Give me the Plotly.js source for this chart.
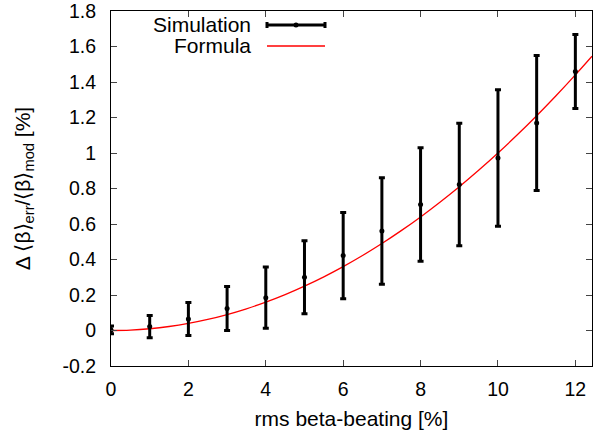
<!DOCTYPE html>
<html>
<head>
<meta charset="utf-8">
<script src="https://cdn.plot.ly/plotly-3.0.1.min.js"></script>
<style>html,body{margin:0;padding:0;background:#fff;}#chart{width:593px;height:438px;}</style>
</head>
<body>
<div id="chart"></div>
<script>
// Simulation points
var simX = [0, 1, 2, 3, 4, 5, 6, 7, 8, 9, 10, 11, 12];
var simY = [0.003, 0.022, 0.065, 0.124, 0.185, 0.300, 0.422, 0.561, 0.710, 0.823, 0.972, 1.169, 1.459];
var simErr = [0.022, 0.063, 0.093, 0.124, 0.173, 0.206, 0.243, 0.300, 0.320, 0.345, 0.385, 0.380, 0.208];

// Formula curve
var formulaX = [0, 0.5, 1, 1.5, 2, 2.5, 3, 3.5, 4, 4.5, 5, 5.5, 6, 6.5, 7, 7.5, 8, 8.5, 9, 9.5, 10, 10.5, 11, 11.5, 12, 12.43];
var formulaY = [0, 0.0025, 0.01, 0.0225, 0.04, 0.0625, 0.09, 0.1225, 0.16, 0.2025, 0.25, 0.3025, 0.36, 0.4225, 0.49, 0.5625, 0.64, 0.7225, 0.81, 0.9025, 1.0, 1.1025, 1.21, 1.3225, 1.44, 1.545];

var xTicks = [0, 2, 4, 6, 8, 10, 12];
var yTicks = [-0.2, 0, 0.2, 0.4, 0.6, 0.8, 1, 1.2, 1.4, 1.6, 1.8];
var yTickText = ['-0.2', '0', '0.2', '0.4', '0.6', '0.8', '1', '1.2', '1.4', '1.6', '1.8'];

var fontFam = 'Liberation Sans, Arial, Helvetica, sans-serif';
var tickSize = 19.5;
var textSize = 21;

var M = {l: 111, r: 1, t: 11, b: 72};
var PW = 593 - M.l - M.r, PH = 438 - M.t - M.b;
function px(x) { return (x - M.l) / PW; }
function py(y) { return 1 - (y - M.t) / PH; }

var traces = [
  {
    x: formulaX, y: formulaY, type: 'scatter', mode: 'lines',
    line: {color: '#ff0000', width: 1.3, shape: 'spline'},
    showlegend: false, hoverinfo: 'skip'
  },
  {
    x: simX, y: simY, type: 'scatter', mode: 'markers',
    marker: {color: '#000', size: 5},
    error_y: {type: 'data', array: simErr, visible: true, color: '#000', thickness: 3, width: 3},
    showlegend: false
  }
];

var axisCommon = {
  showgrid: false, zeroline: false, showline: true, linecolor: '#000', linewidth: 1,
  mirror: 'ticks', ticks: 'inside', ticklen: 6, tickcolor: '#444', tickwidth: 1,
  ticklabeloverflow: 'allow',
  tickfont: {family: fontFam, size: tickSize, color: '#000'}
};

var layout = {
  width: 593, height: 438,
  margin: M,
  paper_bgcolor: '#fff', plot_bgcolor: '#fff',
  showlegend: false,
  font: {family: fontFam, size: textSize, color: '#000'},
  xaxis: Object.assign({}, axisCommon, {
    range: [0, 12.43], tickvals: xTicks, ticktext: xTicks.map(String),
    ticklabelstandoff: 6,
    title: {text: 'rms beta-beating [%]', font: {family: fontFam, size: textSize, color: '#000'}, standoff: 11}
  }),
  yaxis: Object.assign({}, axisCommon, {
    range: [-0.2, 1.8001], tickvals: yTicks, ticktext: yTickText,
    ticklabelstandoff: 10,
    title: {text: 'Δ ⟨β⟩<sub>err</sub>/⟨β⟩<sub>mod</sub> [%]', font: {family: fontFam, size: textSize, color: '#000'}, standoff: 26}
  }),
  annotations: [
    {xref: 'paper', yref: 'paper', x: px(253), y: py(25), xanchor: 'right', yanchor: 'middle',
     text: 'Simulation', showarrow: false, font: {family: fontFam, size: textSize, color: '#000'}},
    {xref: 'paper', yref: 'paper', x: px(253), y: py(46), xanchor: 'right', yanchor: 'middle',
     text: 'Formula', showarrow: false, font: {family: fontFam, size: textSize, color: '#000'}}
  ],
  shapes: [
    {type: 'line', xref: 'paper', yref: 'paper', x0: px(267), x1: px(325), y0: py(25), y1: py(25), line: {color: '#000', width: 3}},
    {type: 'line', xref: 'paper', yref: 'paper', x0: px(267), x1: px(267), y0: py(22), y1: py(28), line: {color: '#000', width: 3}},
    {type: 'line', xref: 'paper', yref: 'paper', x0: px(325), x1: px(325), y0: py(22), y1: py(28), line: {color: '#000', width: 3}},
    {type: 'circle', xref: 'paper', yref: 'paper', x0: px(293.5), x1: px(298.5), y0: py(22.5), y1: py(27.5),
     fillcolor: '#000', line: {color: '#000', width: 0}},
    {type: 'line', xref: 'paper', yref: 'paper', x0: px(267), x1: px(325), y0: py(46), y1: py(46), line: {color: '#ff0000', width: 1.3}}
  ]
};

Plotly.newPlot('chart', traces, layout, {displayModeBar: false, staticPlot: true});
</script>
</body>
</html>
